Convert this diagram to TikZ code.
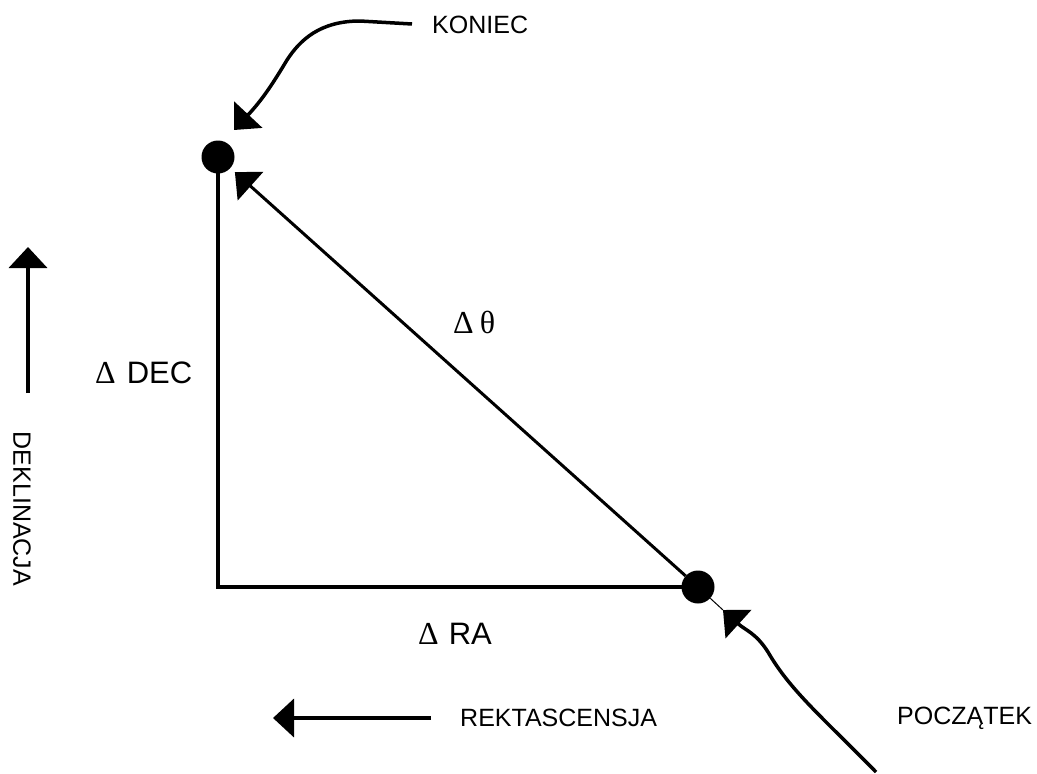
\documentclass[tikz,border=0pt]{standalone}
\usepackage{fontspec}
\setmainfont{Liberation Sans}
\newfontfamily\grkf{Liberation Serif}
\newcommand{\grk}{\grkf\fontsize{32}{36}\selectfont}
\usetikzlibrary{arrows.meta}
\tikzset{
  dot/.style={circle,fill=black,inner sep=0pt,minimum size=33pt},
  lbl/.style={font=\fontsize{25}{30}\selectfont,inner sep=0pt},
  dlbl/.style={font=\fontsize{31}{36}\selectfont,inner sep=0pt},
  tip/.style={-{Triangle[length=21pt,width=38pt]}},
  leg/.style={line width=4pt},
}
\begin{document}
\begin{tikzpicture}[x=1pt,y=-1pt]
\useasboundingbox (0,0) rectangle (1037,774);
% dots
\node[dot] (A) at (218,157) {};
\node[dot] (B) at (698,587) {};
\coordinate (C) at (218,587);
% legs
\draw[leg] (A.center) -- (C) -- (B.center);
% hypotenuse
\draw[line width=3pt,tip,shorten >=6pt] (B) -- (A);
% KONIEC arrow
\coordinate (k0) at (412,24);
\coordinate (k1) at (234,130);
\draw[line width=3.5pt,tip] (k0) -- (360,21) .. controls (320,21) and (300,40) .. (287,60) .. controls (272,85) and (262,100) .. (k1);
% POCZATEK arrow
\coordinate (p0) at (876,772);
\coordinate (p1) at (723,610);
\draw[line width=3.5pt,tip] (p0) .. controls (820,715) and (790,690) .. (768,652) .. controls (756,633) and (745,630) .. (p1);
\draw[line width=1pt] (B) -- (p1);
% direction arrows
\coordinate (d0) at (28,393);
\coordinate (d1) at (28,247);
\draw[line width=4pt,tip] (d0) -- (d1);
\coordinate (r0) at (431,718);
\coordinate (r1) at (273,718);
\draw[line width=4pt,tip] (r0) -- (r1);
% labels
\node[lbl,anchor=west] (koniec) at (432,25) {KONIEC};
\node[lbl,anchor=west] (pocz) at (897,718) {POCZĄTEK};
\node[lbl,anchor=west] (rekt) at (460,718) {REKTASCENSJA};
\node[lbl,rotate=-90] (dekl) at (22,509) {DEKLINACJA};
\node[dlbl,anchor=base west] (ddec) at (95,383) {{\grk Δ}\hspace{11pt}DEC};
\node[dlbl,anchor=base west] (dra) at (418,644) {{\grk Δ}\hspace{10pt}RA};
\node[dlbl,anchor=base west] (dth) at (453,333) {\grk Δ\hspace{6pt}θ};
\end{tikzpicture}
\end{document}
